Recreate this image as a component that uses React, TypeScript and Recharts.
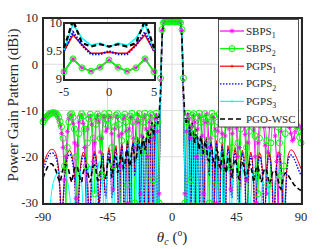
import { CartesianGrid, Line, LineChart, XAxis, YAxis } from 'recharts';

// steering angle grid, 1 degree
const theta = [
  -90, -89, -88, -87, -86, -85, -84, -83, -82, -81,
  -80, -79, -78, -77, -76, -75, -74, -73, -72, -71,
  -70, -69, -68, -67, -66, -65, -64, -63, -62, -61,
  -60, -59, -58, -57, -56, -55, -54, -53, -52, -51,
  -50, -49, -48, -47, -46, -45, -44, -43, -42, -41,
  -40, -39, -38, -37, -36, -35, -34, -33, -32, -31,
  -30, -29, -28, -27, -26, -25, -24, -23, -22, -21,
  -20, -19, -18, -17, -16, -15, -14, -13, -12, -11,
  -10, -9, -8, -7, -6, -5, -4, -3, -2, -1,
  0, 1, 2, 3, 4, 5, 6, 7, 8, 9,
  10, 11, 12, 13, 14, 15, 16, 17, 18, 19,
  20, 21, 22, 23, 24, 25, 26, 27, 28, 29,
  30, 31, 32, 33, 34, 35, 36, 37, 38, 39,
  40, 41, 42, 43, 44, 45, 46, 47, 48, 49,
  50, 51, 52, 53, 54, 55, 56, 57, 58, 59,
  60, 61, 62, 63, 64, 65, 66, 67, 68, 69,
  70, 71, 72, 73, 74, 75, 76, 77, 78, 79,
  80, 81, 82, 83, 84, 85, 86, 87, 88, 89,
  90
];

const sbps1 = [
  -12, -11.6, -11.2, -10.9, -10.6, -10.4, -10.3, -10.3, -10.4, -10.7,
  -11.2, -12, -13.2, -15, -18, -25, -20, -14.5, -11.8, -11,
  -11.2, -12.8, -17, -29, -17.5, -12.5, -11, -11.2, -12.8, -18,
  -31, -14, -11.3, -11.2, -13, -21, -17, -11.8, -11, -12.5,
  -19, -16, -11.2, -11.3, -14.5, -13.8, -11.3, -11.5, -15, -27,
  -14, -11.2, -11.5, -15.5, -22, -15, -11.8, -11.2, -14.5, -30,
  -14, -11.5, -11.5, -16, -18, -12.5, -10.8, -12.5, -28, -15.5,
  -11.5, -11, -14, -20, -12.5, -11.2, -13.5, -16, -11.8, -11,
  -14.5, -28, -3.5, 7.3, 9.0, 9.13, 9.36, 9.2, 9.14, 9.21,
  9.34, 9.21, 9.14, 9.2, 9.36, 9.13, 9.0, 7.3, -3.5, -28,
  -14.5, -11, -11.8, -16, -13.5, -11.2, -12.5, -20, -14, -11,
  -11.5, -15.5, -28, -12.5, -10.8, -12.5, -18, -16, -11.5, -11.5,
  -14, -30, -14.5, -11.2, -11.8, -15, -22, -15.5, -11.5, -11.2,
  -14, -27, -15, -11.5, -11.3, -13.8, -20, -18, -12.2, -11.2,
  -12, -15.2, -25, -17, -12.3, -11.3, -11.8, -14.2, -20, -30,
  -17, -12.5, -11.2, -11.5, -13.5, -17.5, -28, -19, -13.5, -11.6,
  -11.5, -12.8, -15.5, -21, -32, -19.5, -14.5, -12.3, -11.5, -11.4,
  -11.8, -12.6, -13.7, -15, -16.5, -16, -14.5, -13.5, -13.2, -13.4,
  -14
];

const sbps2 = [
  -12.5, -12, -11.5, -11.2, -10.9, -10.7, -10.6, -10.5, -10.5, -10.6,
  -10.9, -11.5, -12.4, -13.5, -16, -22, -31, -18, -12.5, -10.9,
  -10.7, -11.5, -14, -20, -33, -15, -11.5, -10.7, -11.2, -14,
  -22, -17, -11.8, -10.8, -11.5, -16, -28, -13, -10.8, -11.3,
  -16, -24, -11.5, -10.7, -13, -12, -10.6, -11.5, -18, -22,
  -13.5, -11, -10.7, -13, -34, -16.5, -11.5, -10.8, -12.5, -26,
  -15, -11.2, -10.6, -12.5, -30, -16.5, -11.5, -10.7, -11.8, -19,
  -12.5, -10.6, -11.5, -33, -15, -10.7, -11, -25, -13.5, -10.6,
  -12.5, -30, -3, 7.5, 9.0, 9.13, 9.36, 9.2, 9.14, 9.21,
  9.34, 9.21, 9.14, 9.2, 9.36, 9.13, 9.0, 7.5, -3, -30,
  -12.5, -10.6, -13.5, -25, -11, -10.7, -15, -33, -11.5, -10.6,
  -12.5, -19, -11.8, -10.7, -11.5, -16.5, -30, -12.5, -10.6, -11.2,
  -15, -26, -12.5, -10.8, -11.5, -16.5, -34, -13, -10.7, -11,
  -13.5, -22, -18, -11.5, -10.6, -12, -17, -32, -14, -11,
  -10.7, -12.5, -18, -36, -14.5, -11.2, -10.8, -12, -15.5, -24,
  -28, -16, -12, -10.8, -11, -12.8, -16.5, -26, -31, -17,
  -12.8, -11.2, -10.9, -11.8, -13.6, -17, -24, -35, -22, -15,
  -12.5, -11.4, -11, -11, -11.3, -11.8, -12.5, -13.4, -14.5, -15.8,
  -17
];

const pgps1 = [
  -21.8, -20.9, -20.1, -19.4, -18.9, -18.5, -18.4, -18.4, -18.7, -19.3,
  -20.5, -22.8, -27.5, -40, -29.6, -23.9, -21, -19.4, -18.7, -18.7,
  -19.4, -21, -23.9, -29.6, -40, -27.8, -22.4, -20, -19, -19.3,
  -20.9, -24.5, -33.4, -31.8, -22.9, -19.7, -18.8, -19.7, -22.9, -31.8,
  -26.8, -19.2, -19.2, -26.8, -28.2, -19.8, -18, -19.8, -28.2, -26.8,
  -18.8, -17.6, -21.3, -40, -20, -17, -20, -40, -19.5, -16.5,
  -19.5, -40, -18.1, -16.2, -23.2, -22.7, -15.7, -17.6, -38, -16.3,
  -16.3, -38, -15.8, -15.8, -38, -14.8, -14.8, -36, -12.9, -17.1,
  -36, -24, -8, 5, 8.8, 9.5, 9.79, 9.61, 9.46, 9.46,
  9.48, 9.46, 9.46, 9.61, 9.79, 9.5, 8.8, 5, -8, -24,
  -36, -17.1, -12.9, -36, -14.8, -14.8, -38, -15.8, -15.8, -38,
  -16.3, -16.3, -38, -17.6, -15.7, -22.7, -23.2, -16.2, -18.1, -40,
  -19.5, -16.5, -19.5, -40, -20, -17, -20, -40, -21.3, -17.6,
  -18.8, -26.8, -28.2, -19.8, -18, -19.8, -28.2, -29.5, -20.9, -18.6,
  -19.3, -23.8, -40, -25, -20.3, -19, -20.3, -25, -40, -25.7,
  -20.7, -19.1, -19.6, -22.6, -31.4, -31.4, -22.6, -19.6, -19.1, -20.7,
  -25.7, -40, -26, -20.9, -19, -19, -20.9, -26, -40, -30,
  -22.5, -19.8, -18.8, -18.5, -18.6, -19, -19.6, -20.3, -21, -21.8,
  -22.6
];

const pgps2 = [
  -23, -22, -21.1, -20.3, -19.7, -19.3, -19.2, -19.2, -19.5, -20.1,
  -21.3, -23.6, -28.3, -41, -30.4, -24.7, -21.8, -20.2, -19.5, -19.5,
  -20.2, -21.8, -24.7, -30.4, -41, -28.6, -23.2, -20.8, -19.8, -20.1,
  -21.7, -25.3, -34.2, -32.6, -23.7, -20.5, -19.6, -20.5, -23.7, -32.6,
  -27.6, -20, -20, -27.6, -29, -20.6, -18.8, -20.6, -29, -27.6,
  -19.5, -18.3, -22, -41, -20.7, -17.6, -20.6, -41, -20.1, -17,
  -20, -41, -18.6, -16.7, -23.8, -23.3, -16.1, -18.1, -39, -16.8,
  -16.7, -39, -16.1, -16.2, -39, -15.2, -15.1, -37, -13.2, -17.5,
  -37, -25, -8.5, 5.2, 8.9, 9.5, 9.84, 9.6, 9.44, 9.44,
  9.5, 9.44, 9.44, 9.6, 9.84, 9.5, 8.9, 5.2, -8.5, -25,
  -37, -17.5, -13.2, -37, -15.1, -15.2, -39, -16.2, -16.1, -39,
  -16.7, -16.8, -39, -18.1, -16.1, -23.3, -23.8, -16.7, -18.6, -41,
  -20, -17, -20.1, -41, -20.6, -17.6, -20.7, -41, -22, -18.3,
  -19.5, -27.6, -29, -20.6, -18.8, -20.6, -29, -30.3, -21.7, -19.4,
  -20.1, -24.6, -41, -25.8, -21.1, -19.8, -21.1, -25.8, -41, -26.5,
  -21.5, -19.9, -20.4, -23.4, -32.2, -32.2, -23.4, -20.4, -19.9, -21.5,
  -26.5, -41, -26.8, -21.7, -19.8, -19.8, -21.7, -26.8, -41, -31,
  -23.4, -20.7, -19.8, -19.6, -19.8, -20.3, -21, -21.8, -22.6, -23.3,
  -24.1
];

const pgps3 = [
  -42, -40, -38, -36, -34, -30.5, -27.5, -25.8, -24.7, -24,
  -23.6, -23.3, -23.2, -23.2, -23.3, -23.6, -24.2, -25.2, -26.8, -29.5,
  -35, -42, -31, -25.7, -23.4, -22.7, -23.1, -25.7, -31, -42,
  -29.2, -24.1, -22.2, -22, -24.1, -29.2, -42, -28.2, -23.1, -21.2,
  -21, -23.1, -28.2, -42, -26.5, -21.75, -20.5, -21.75, -26.5, -42,
  -24.1, -19.9, -19.9, -24.1, -42, -22, -19, -22, -42, -21,
  -18, -21, -42, -20, -17, -20, -42, -17.25, -17.25, -42,
  -16.25, -16.25, -42, -15.25, -15.25, -42, -14.25, -14.25, -42, -12,
  -42, -24, -6, 6, 9.0, 9.52, 9.98, 9.73, 9.6, 9.64,
  9.57, 9.64, 9.6, 9.73, 9.98, 9.52, 9.0, 6, -6, -24,
  -42, -12, -42, -14.25, -14.25, -42, -15.25, -15.25, -42, -16.25,
  -16.25, -42, -17.25, -17.25, -42, -20, -17, -20, -42, -21,
  -18, -21, -42, -22, -19, -22, -42, -24.1, -19.9, -19.9,
  -24.1, -42, -26.5, -21.75, -20.5, -21.75, -26.5, -42, -28.2, -23.1,
  -21.2, -21.2, -23.1, -28.2, -42, -29.2, -24.1, -22.2, -22.2, -24.1,
  -29.2, -42, -31, -25.7, -23.4, -22.7, -23.4, -25.7, -31, -42,
  -33.8, -28.1, -25.2, -23.6, -22.9, -22.9, -23.6, -25.2, -28.1, -33.8,
  -45, -40, -35, -33, -32, -31.5, -32, -33, -35, -38,
  -40
];

const pgoWsc = [
  -24.6, -23.8, -23, -22.3, -21.8, -21.5, -21.5, -21.8, -22.3, -23,
  -24, -25, -25.5, -24, -22.5, -21.8, -21.5, -22, -23, -24.5,
  -25.5, -24, -22.5, -22, -22.3, -23.5, -25, -25.5, -23.5, -22.3,
  -22, -23, -24.5, -25.5, -23.5, -22, -21.8, -23, -25, -25,
  -22.5, -21.5, -22, -24, -24.8, -21.5, -20.5, -21.5, -24.5, -22,
  -20, -20.2, -23.5, -22.5, -19.8, -19.5, -22.5, -22, -19, -18.5,
  -22, -21.5, -18.5, -17.5, -21, -20.5, -18, -16.5, -19.5, -17.5,
  -15.5, -18.5, -16.5, -14, -17, -15, -12.5, -15.5, -13, -10.5,
  -13, -11, -6, 5.5, 9.0, 9.55, 10.05, 9.64, 9.58, 9.62,
  9.58, 9.62, 9.58, 9.64, 10.05, 9.55, 9.0, 5.5, -6, -11,
  -13, -10.5, -13, -15.5, -12.5, -15, -17, -14, -16.5, -18.5,
  -15.5, -17.5, -19.5, -16.5, -18, -20.5, -21, -17.5, -18.5, -21.5,
  -22, -18.5, -19, -22, -22.5, -19.5, -19.8, -22.5, -23.5, -20.2,
  -20, -22, -24.5, -21.5, -20.5, -21.5, -24, -25, -21.5, -21,
  -22, -24.5, -25, -22.5, -21.5, -22, -23.5, -25.5, -23.5, -22,
  -22.2, -23.5, -25.5, -25, -23, -22.5, -23, -24.5, -26, -25,
  -23.5, -23, -23, -23.8, -25, -26.5, -27, -25.5, -24, -23.5,
  -23.6, -24, -24.5, -25, -25.5, -26, -26.3, -26.6, -26.9, -27.1,
  -27.3
];

const xTicks = [-90, -45, 0, 45, 90];
const yTicks = [-30, -20, -10, 0, 10];
const insetXTicks = [-5, 0, 5];
const insetYTicks = [9, 9.5, 10];

const rows = theta.map((t, i) => ({
  theta: t,
  sbps1: sbps1[i],
  sbps2: sbps2[i],
  pgps1: pgps1[i],
  pgps2: pgps2[i],
  pgps3: pgps3[i],
  pgoWsc: pgoWsc[i]
}));
const insetRows = rows.filter((r) => r.theta >= -5 && r.theta <= 5);

const INK = '#262626';
const SERIF = 'Liberation Serif, Times New Roman, serif';
const tickStyle = { fontSize: 12.5, fill: INK, fontFamily: SERIF };

const starPath = (cx: number, cy: number, s: number) =>
  `M${cx - s},${cy}h${2 * s}M${cx},${cy - s}v${2 * s}` +
  `M${cx - s * 0.7},${cy - s * 0.7}l${s * 1.4},${s * 1.4}` +
  `M${cx - s * 0.7},${cy + s * 0.7}l${s * 1.4},${-s * 1.4}`;

const StarDot = (props: any) => {
  const { cx, cy, index } = props;
  if (cx == null || cy == null) return <g key={`s-${index}`} />;
  return <path key={`s-${index}`} d={starPath(cx, cy, 2.5)} stroke="#ff00ff" strokeWidth={0.8} fill="none" />;
};

const circleDot = { r: 3, stroke: '#00ff00', strokeWidth: 1, fill: 'none' };

const renderSeries = (width: number) => [
  <Line key="sbps1" dataKey="sbps1" stroke="#ff00ff" strokeWidth={width} dot={StarDot} isAnimationActive={false} />,
  <Line key="sbps2" dataKey="sbps2" stroke="#00ff00" strokeWidth={width} dot={circleDot} isAnimationActive={false} />,
  <Line key="pgps1" dataKey="pgps1" stroke="#ff0000" strokeWidth={width} dot={false} isAnimationActive={false} />,
  <Line key="pgps2" dataKey="pgps2" stroke="#0000ff" strokeWidth={width + 0.4} strokeDasharray="1.5 1.5" dot={false} isAnimationActive={false} />,
  <Line key="pgps3" dataKey="pgps3" stroke="#00ffff" strokeWidth={width} dot={false} isAnimationActive={false} />,
  <Line key="pgoWsc" dataKey="pgoWsc" stroke="#000000" strokeWidth={width + 0.6} strokeDasharray="5 3" dot={false} isAnimationActive={false} />
];

const legendItems = [
  { label: 'SBPS', sub: '1', color: '#ff00ff', dash: undefined, mark: 'star' },
  { label: 'SBPS', sub: '2', color: '#00ff00', dash: undefined, mark: 'circle' },
  { label: 'PGPS', sub: '1', color: '#ff0000', dash: undefined, mark: 'plus' },
  { label: 'PGPS', sub: '2', color: '#0000ff', dash: '1.5 1.5', mark: 'none' },
  { label: 'PGPS', sub: '3', color: '#00ffff', dash: undefined, mark: 'plus' },
  { label: 'PGO-WSC', sub: '', color: '#000000', dash: '5 3', mark: 'none' }
];

const Overlay = () => (
  <svg width={332} height={249} style={{ position: 'absolute', left: 0, top: 0, pointerEvents: 'none' }}>
    <text
      transform="translate(18,105) rotate(-90)"
      textAnchor="middle"
      fontSize={15}
      fontFamily={SERIF}
      fill={INK}
    >
      Power Gain Pattern (dBi)
    </text>
    <text x={172} y={242} textAnchor="middle" fontSize={15} fontFamily={SERIF} fill={INK}>
      <tspan fontStyle="italic">θ</tspan>
      <tspan fontSize={10} dy={3} fontStyle="italic">c</tspan>
      <tspan dy={-3}> (</tspan>
      <tspan fontSize={9.5} dy={-6}>o</tspan>
      <tspan dy={6}>)</tspan>
    </text>
    <rect x={218.5} y={19.5} width={80} height={107.5} fill="#fff" stroke={INK} strokeWidth={0.8} />
    {legendItems.map((item, i) => {
      const y = 31 + i * 17.6;
      return (
        <g key={i}>
          <line x1={220} x2={244} y1={y} y2={y} stroke={item.color} strokeWidth={item.dash === '5 3' ? 1.6 : 1.2} strokeDasharray={item.dash} />
          {item.mark === 'star' && <path d={starPath(232, y, 2.5)} stroke={item.color} strokeWidth={0.8} />}
          {item.mark === 'circle' && <circle cx={232} cy={y} r={3} stroke={item.color} fill="none" />}
          {item.mark === 'plus' && <path d={`M230.5,${y}h3M232,${y - 1.5}v3`} stroke={item.color} strokeWidth={0.8} />}
          <text x={246} y={y + 3.5} fontSize={11} fontFamily={SERIF} fill={INK}>
            {item.label}
            {item.sub && (
              <tspan fontSize={8} dy={3.5}>
                {item.sub}
              </tspan>
            )}
          </text>
        </g>
      );
    })}
  </svg>
);

export default function App() {
  return (
    <div style={{ position: 'relative', width: 332, height: 249, background: '#fff' }}>
      <style>{'body{margin:0}'}</style>
      <LineChart width={332} height={249} data={rows} margin={{ top: 18, right: 31, bottom: 0, left: 0 }}>
        <CartesianGrid stroke="#dedede" />
        <XAxis
          dataKey="theta"
          type="number"
          domain={[-90, 90]}
          ticks={xTicks}
          interval={0}
          height={46}
          tickSize={0}
          tickMargin={9}
          axisLine={false}
          tickLine={false}
          tick={tickStyle}
        />
        <YAxis
          domain={[-30, 10]}
          ticks={yTicks}
          interval={0}
          allowDataOverflow
          width={43}
          tickSize={0}
          tickMargin={5}
          axisLine={false}
          tickLine={false}
          tick={tickStyle}
        />
        {renderSeries(1)}
      </LineChart>
      <div
        style={{
          position: 'absolute', left: 42, top: 17, width: 261, height: 188,
          boxSizing: 'border-box', border: `2px solid ${INK}`, pointerEvents: 'none'
        }}
      />
      <div
        style={{
          position: 'absolute', left: 63, top: 22, width: 93, height: 59,
          boxSizing: 'border-box', border: `2px solid ${INK}`, background: '#fff'
        }}
      />
      <div style={{ position: 'absolute', left: 30, top: 15 }}>
        <LineChart width={130} height={88} data={insetRows} margin={{ top: 8, right: 6, bottom: 0, left: 0 }}>
          <XAxis
            dataKey="theta"
            type="number"
            domain={[-5, 5]}
            ticks={insetXTicks}
            interval={0}
            height={24}
            tickSize={0}
            tickMargin={8}
            axisLine={false}
            tickLine={false}
            tick={tickStyle}
          />
          <YAxis
            domain={[9, 10]}
            ticks={insetYTicks}
            interval={0}
            allowDataOverflow
            width={34}
            tickSize={0}
            tickMargin={2}
            axisLine={false}
            tickLine={false}
            tick={tickStyle}
          />
          {renderSeries(1.6)}
        </LineChart>
      </div>
      <Overlay />
    </div>
  );
}
